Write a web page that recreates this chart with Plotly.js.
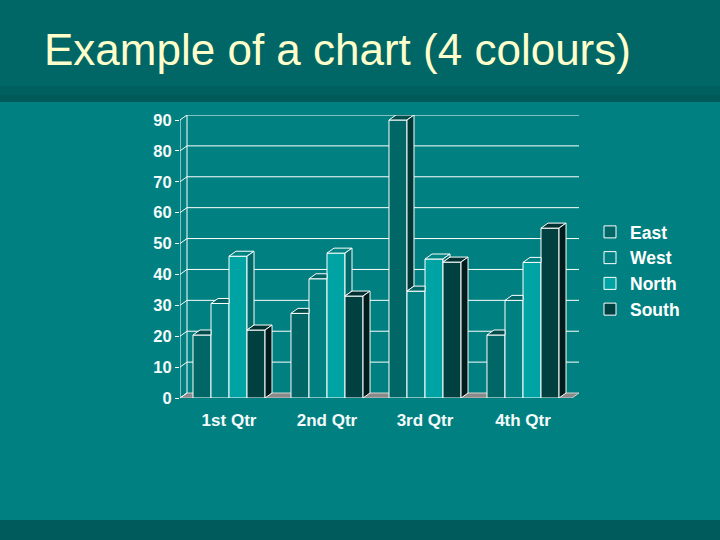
<!DOCTYPE html>
<html>
<head>
<meta charset="utf-8">
<script src="https://cdn.plot.ly/plotly-3.0.1.min.js"></script>
<style>
  html, body { margin: 0; padding: 0; background: #008080; }
  #chart { width: 720px; height: 540px; }
</style>
</head>
<body>
<div id="chart"></div>
<script>
// chart data
const quarters = ["1st Qtr", "2nd Qtr", "3rd Qtr", "4th Qtr"];
const seriesNames = ["East", "West", "North", "South"];
const east = [20.4, 27.4, 90, 20.4];
const west = [30.6, 38.6, 34.6, 31.6];
const north = [45.9, 46.9, 45, 43.9];
const south = [22, 33, 44, 55];
const yTicks = [0, 10, 20, 30, 40, 50, 60, 70, 80, 90];

const seriesValues = [east, west, north, south];
const frontColors = ["#006666", "#008080", "#00a3a3", "#004040"];
const topColors = ["#004d4d", "#006666", "#008585", "#003030"];
const sideColors = ["#003838", "#004d4d", "#006a6a", "#001c1c"];

// 3d look: depth in pixels, turned into data units
const xPxPerUnit = 98, yPxPerUnit = 278 / 90;
const dx = 7 / xPxPerUnit, dy = 5 / yPxPerUnit;
const barW = 0.18375, groupLeft = -0.3675;
const xMin = -0.5, xMax = quarters.length - 0.5;
const yMax = yTicks[yTicks.length - 1];

function poly(pts) {
  return "M" + pts.map(p => p[0] + "," + p[1]).join(" L") + " Z";
}

const traces = seriesNames.map((name, k) => ({
  type: "bar",
  name: name,
  x: quarters.map((q, i) => i),
  y: seriesValues[k],
  width: barW,
  offset: groupLeft + k * barW,
  marker: { color: frontColors[k], line: { color: "#ffffff", width: 1 } },
  hoverinfo: "name+y"
}));

const shapes = [];
// title band and bottom strip
shapes.push({ type: "rect", xref: "paper", yref: "paper", x0: 0, x1: 1, y0: 1 - 102 / 540, y1: 1,
  fillcolor: "#006666", line: { width: 0 }, layer: "below" });
shapes.push({ type: "rect", xref: "paper", yref: "paper", x0: 0, x1: 1, y0: 1 - 102 / 540, y1: 1 - 86 / 540,
  fillcolor: "#006060", line: { width: 0 }, layer: "below" });
shapes.push({ type: "rect", xref: "paper", yref: "paper", x0: 0, x1: 1, y0: 1 - 102 / 540, y1: 1 - 95 / 540,
  fillcolor: "#005a5a", line: { width: 0 }, layer: "below" });
shapes.push({ type: "rect", xref: "paper", yref: "paper", x0: 0, x1: 1, y0: 0, y1: 20 / 540,
  fillcolor: "#005c5c", line: { width: 0 }, layer: "below" });

// floor
shapes.push({ type: "path", xref: "x", yref: "y", layer: "below",
  path: poly([[xMin, 0], [xMax, 0], [xMax + dx, dy], [xMin + dx, dy]]),
  fillcolor: "#8a8a8a", line: { color: "#d0d0d0", width: 1 } });
// back wall grid and left wall
yTicks.forEach(v => {
  if (v > 0) {
    shapes.push({ type: "line", xref: "x", yref: "y", layer: "below",
      x0: xMin + dx, x1: xMax + dx, y0: v + dy, y1: v + dy, line: { color: "#ffffff", width: 1 } });
  }
  shapes.push({ type: "line", xref: "x", yref: "y", layer: "below",
    x0: xMin, x1: xMin + dx, y0: v, y1: v + dy, line: { color: "#ffffff", width: 1 } });
});
shapes.push({ type: "line", xref: "x", yref: "y", layer: "below",
  x0: xMin + dx, x1: xMin + dx, y0: dy, y1: yMax + dy, line: { color: "#ffffff", width: 1 } });
shapes.push({ type: "line", xref: "x", yref: "y", layer: "below",
  x0: xMin, x1: xMin, y0: 0, y1: yMax, line: { color: "#ffffff", width: 1 } });

// top and side faces of each bar, cut where the next bar hides them
quarters.forEach((q, i) => {
  seriesValues.forEach((vals, k) => {
    const h = vals[i];
    const hn = k < seriesValues.length - 1 ? seriesValues[k + 1][i] : null;
    const xl = i + groupLeft + k * barW, xr = xl + barW;
    let top;
    if (hn !== null && hn > h) {
      top = [[xl, h], [xr, h], [xr, h + dy], [xl + dx, h + dy]];
    } else {
      top = [[xl, h], [xr, h], [xr + dx, h + dy], [xl + dx, h + dy]];
    }
    shapes.push({ type: "path", xref: "x", yref: "y", layer: "above", path: poly(top),
      fillcolor: topColors[k], line: { color: "#ffffff", width: 1 } });
    let side = null;
    if (hn === null) {
      side = [[xr, 0], [xr, h], [xr + dx, h + dy], [xr + dx, dy]];
    } else if (h > hn) {
      side = [[xr, hn], [xr, h], [xr + dx, h + dy], [xr + dx, hn + dy]];
    }
    if (side) {
      shapes.push({ type: "path", xref: "x", yref: "y", layer: "above", path: poly(side),
        fillcolor: sideColors[k], line: { color: "#ffffff", width: 1 } });
    }
  });
});

const fontFamily = "Liberation Sans, Arial, sans-serif";

const layout = {
  width: 720,
  height: 540,
  margin: { l: 0, r: 0, t: 0, b: 0 },
  paper_bgcolor: "#008080",
  plot_bgcolor: "rgba(0,0,0,0)",
  barmode: "overlay",
  showlegend: true,
  title: {
    text: "Example of a chart (4 colours)",
    font: { family: fontFamily, size: 44, color: "#ffffcc" },
    x: 44 / 720, xanchor: "left",
    y: 1 - 50 / 540, yanchor: "middle"
  },
  xaxis: {
    domain: [180 / 720, 579 / 720],
    range: [xMin, xMax + dx],
    tickvals: quarters.map((q, i) => i),
    ticktext: quarters,
    ticks: "",
    ticklabelstandoff: 10,
    showgrid: false, zeroline: false, showline: false,
    tickfont: { family: fontFamily, size: 17, color: "#f4fbfb", weight: "bold" },
    fixedrange: true
  },
  yaxis: {
    domain: [(540 - 398) / 540, (540 - 115) / 540],
    range: [0, yMax + dy],
    tickvals: yTicks,
    ticks: "outside", ticklen: 4, tickcolor: "#ffffff",
    showgrid: false, zeroline: false, showline: false,
    tickfont: { family: fontFamily, size: 16.5, color: "#f4fbfb", weight: "bold" },
    fixedrange: true
  },
  legend: {
    x: 590 / 720, xanchor: "left",
    y: 1 - 214 / 540, yanchor: "top",
    bgcolor: "rgba(0,0,0,0)",
    font: { family: fontFamily, size: 17.5, color: "#ffffff", weight: "bold" }
  },
  shapes: shapes
};

Plotly.newPlot("chart", traces, layout, { displayModeBar: false, staticPlot: true });
</script>
</body>
</html>
